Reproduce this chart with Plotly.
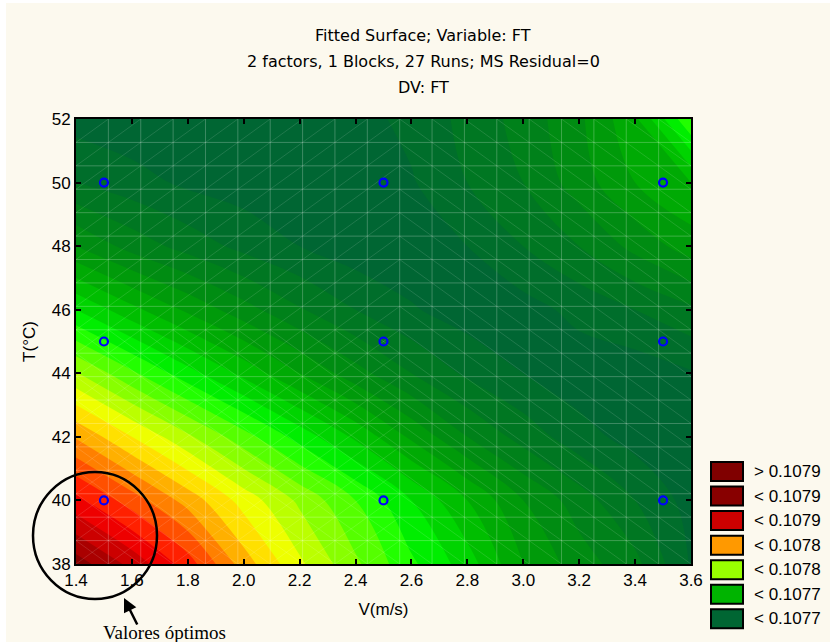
import plotly.graph_objects as go

# ---------------- data ----------------
V_GRID = [1.4, 1.6, 1.8, 2.0, 2.2, 2.4, 2.6, 2.8, 3.0, 3.2, 3.4, 3.6]
T_GRID = [38, 40, 42, 44, 46, 48, 50, 52]

FT_T38 = [0.107895, 0.107877, 0.107855, 0.107825, 0.107802, 0.107782, 0.107762, 0.107745, 0.107720, 0.107705, 0.107693, 0.107669]
FT_T40 = [0.107863, 0.107845, 0.107826, 0.107806, 0.107788, 0.107770, 0.107750, 0.107730, 0.107710, 0.107695, 0.107680, 0.107666]
FT_T42 = [0.107829, 0.107810, 0.107792, 0.107774, 0.107756, 0.107738, 0.107718, 0.107700, 0.107686, 0.107674, 0.107666, 0.107664]
FT_T44 = [0.107791, 0.107772, 0.107754, 0.107737, 0.107720, 0.107704, 0.107690, 0.107678, 0.107670, 0.107664, 0.107664, 0.107669]
FT_T46 = [0.107750, 0.107733, 0.107718, 0.107704, 0.107691, 0.107680, 0.107671, 0.107665, 0.107666, 0.107673, 0.107680, 0.107688]
FT_T48 = [0.107710, 0.107696, 0.107686, 0.107677, 0.107670, 0.107664, 0.107663, 0.107670, 0.107680, 0.107690, 0.107703, 0.107715]
FT_T50 = [0.107680, 0.107674, 0.107668, 0.107665, 0.107663, 0.107663, 0.107669, 0.107680, 0.107690, 0.107705, 0.107720, 0.107730]
FT_T52 = [0.107666, 0.107663, 0.107660, 0.107660, 0.107662, 0.107666, 0.107673, 0.107683, 0.107694, 0.107708, 0.107728, 0.107770]
FT_GRID = [FT_T38, FT_T40, FT_T42, FT_T44, FT_T46, FT_T48, FT_T50, FT_T52]

V_RUNS = [1.5, 2.5, 3.5]
T_RUNS = [40, 45, 50]

X_TICKS = [1.4, 1.6, 1.8, 2.0, 2.2, 2.4, 2.6, 2.8, 3.0, 3.2, 3.4, 3.6]
X_TICK_LABELS = ["1.4", "1.6", "1.8", "2.0", "2.2", "2.4", "2.6", "2.8", "3.0", "3.2", "3.4", "3.6"]
Y_TICKS = [38, 40, 42, 44, 46, 48, 50, 52]
Y_TICK_LABELS = ["38", "40", "42", "44", "46", "48", "50", "52"]

LEGEND_LABELS = ["> 0.1079", "< 0.1079", "< 0.1079", "< 0.1078", "< 0.1078", "< 0.1077", "< 0.1077"]
LEGEND_COLORS = ["#800000", "#880000", "#CC0000", "#FF9900", "#99FF00", "#00B400", "#006633"]

LEVEL_START = 0.10767
LEVEL_END = 0.10789
LEVEL_STEP = 0.00001
BAND_COLORS = ["#006633", "#006E2B", "#007722", "#00811A", "#008C12", "#009A0A",
               "#00AA04", "#00BE00", "#00D400", "#00EE00", "#22FF00", "#55FF00",
               "#88FF00", "#BBFF00", "#EEFF00", "#FFE000", "#FFB000", "#FF8000",
               "#FF5000", "#FF2000", "#EE0000", "#CC0000", "#AA0000", "#880000"]

TITLE_LINES = ["Fitted Surface; Variable: FT",
               "2 factors, 1 Blocks, 27 Runs; MS Residual=0",
               "DV: FT"]

# ---------------- layout geometry ----------------
W, H = 830, 642
L_M, R_M, T_M, B_M = 76, 139, 119, 78
PW = W - L_M - R_M
PH = H - T_M - B_M
X_RANGE = [1.4, 3.6]
Y_RANGE = [38, 52]
BG = "#FCF9EE"


def px(xp):
    return (xp - L_M) / PW


def py(yp):
    return (H - B_M - yp) / PH


fig = go.Figure()

n_bands = len(BAND_COLORS)
colorscale = [[i / (n_bands - 1), c] for i, c in enumerate(BAND_COLORS)]

fig.add_trace(go.Contour(
    x=V_GRID, y=T_GRID, z=FT_GRID,
    colorscale=colorscale,
    autocontour=False,
    contours=dict(start=LEVEL_START, end=LEVEL_END, size=LEVEL_STEP, coloring="fill"),
    line=dict(width=0),
    showscale=False,
    hoverinfo="skip",
))

# faint triangulation mesh drawn over the surface
NDIV = 19
gx = [X_RANGE[0] + i * (X_RANGE[1] - X_RANGE[0]) / NDIV for i in range(NDIV + 1)]
gy = [Y_RANGE[0] + j * (Y_RANGE[1] - Y_RANGE[0]) / NDIV for j in range(NDIV + 1)]
mx, my = [], []
for x in gx[1:-1]:
    mx += [x, x, None]
    my += [Y_RANGE[0], Y_RANGE[1], None]
for y in gy[1:-1]:
    mx += [X_RANGE[0], X_RANGE[1], None]
    my += [y, y, None]
dx, dy = [], []
for i in range(NDIV):
    for j in range(NDIV):
        xc = (gx[i] + gx[i + 1]) / 2
        yc = (gy[j] + gy[j + 1]) / 2
        if xc < 2.56:
            dx += [gx[i], gx[i + 1], None]
            dy += [gy[j], gy[j + 1], None]
        if xc >= 2.56 or yc < 45.6:
            dx += [gx[i], gx[i + 1], None]
            dy += [gy[j + 1], gy[j], None]
fig.add_trace(go.Scatter(x=mx, y=my, mode="lines",
                         line=dict(color="rgba(255,255,255,0.24)", width=1),
                         hoverinfo="skip", showlegend=False))
fig.add_trace(go.Scatter(x=dx, y=dy, mode="lines",
                         line=dict(color="rgba(255,255,255,0.18)", width=0.7),
                         hoverinfo="skip", showlegend=False))

# design points
pts_v = [v for t in T_RUNS for v in V_RUNS]
pts_t = [t for t in T_RUNS for v in V_RUNS]
fig.add_trace(go.Scatter(
    x=pts_v, y=pts_t, mode="markers",
    marker=dict(symbol="circle-open", size=8, color="#0000FF", line=dict(width=2.2, color="#0000FF")),
    showlegend=False, hoverinfo="skip",
))

shapes = []
annotations = []

# cream page background with thin white border
shapes.append(dict(type="rect", xref="paper", yref="paper", layer="below",
                   x0=px(6), x1=px(W + 5), y0=py(H + 5), y1=py(3),
                   fillcolor=BG, line=dict(width=0)))

# title lines
for text, yp in zip(TITLE_LINES, [36, 62, 88]):
    annotations.append(dict(text=text, xref="paper", yref="paper", x=px(423), y=py(yp),
                            xanchor="center", yanchor="middle", showarrow=False,
                            font=dict(family="DejaVu Sans", size=16, color="#000000")))

# legend
for i, (lab, col) in enumerate(zip(LEGEND_LABELS, LEGEND_COLORS)):
    top = 462 + 24.55 * i
    shapes.append(dict(type="rect", xref="paper", yref="paper", layer="above",
                       x0=px(711), x1=px(743), y0=py(top + 19), y1=py(top),
                       fillcolor=col, line=dict(color="#000000", width=2)))
    annotations.append(dict(text=lab, xref="paper", yref="paper", x=px(752), y=py(top + 9.5),
                            xanchor="left", yanchor="middle", showarrow=False,
                            font=dict(family="Liberation Sans, Arial", size=17, color="#000000")))

# highlight circle, arrow and note
shapes.append(dict(type="circle", xref="paper", yref="paper", layer="above",
                   x0=px(33), x1=px(157), y0=py(599), y1=py(472),
                   line=dict(color="#000000", width=2.5)))
annotations.append(dict(text="", xref="paper", yref="paper", x=px(124), y=py(598),
                        ax=14, ay=28, showarrow=True, arrowhead=2, arrowsize=1.1,
                        arrowwidth=2.5, arrowcolor="#000000", standoff=0))
annotations.append(dict(text="Valores óptimos", xref="paper", yref="paper", x=px(164), y=py(632),
                        xanchor="center", yanchor="middle", showarrow=False,
                        font=dict(family="Liberation Serif, Times New Roman", size=19, color="#000000")))

axis_font = dict(family="Liberation Sans, Arial", size=17, color="#000000")
fig.update_layout(
    width=W, height=H,
    margin=dict(l=L_M, r=R_M, t=T_M, b=B_M, pad=0),
    paper_bgcolor="#FFFFFF",
    plot_bgcolor=BG,
    showlegend=False,
    shapes=shapes,
    annotations=annotations,
    xaxis=dict(range=X_RANGE, tickvals=X_TICKS, ticktext=X_TICK_LABELS,
               ticks="inside", ticklen=5, tickwidth=1.5, tickcolor="#000000",
               showline=True, linecolor="#000000", linewidth=2, mirror="ticks",
               showgrid=False, zeroline=False, tickfont=axis_font,
               title=dict(text="V(m/s)", font=axis_font, standoff=14)),
    yaxis=dict(range=Y_RANGE, tickvals=Y_TICKS, ticktext=Y_TICK_LABELS,
               ticks="inside", ticklen=5, tickwidth=1.5, tickcolor="#000000",
               showline=True, linecolor="#000000", linewidth=2, mirror="ticks",
               showgrid=False, zeroline=False, tickfont=axis_font,
               title=dict(text="T(°C)", font=axis_font, standoff=12)),
)

fig.write_html("out.html", config={"displayModeBar": False})

# remove the browser's default page margin so the figure sits at the window origin
with open("out.html", encoding="utf-8") as f:
    html = f.read()
html = html.replace("<head>", "<head><style>html,body{margin:0;padding:0;overflow:hidden;}</style>", 1)
with open("out.html", "w", encoding="utf-8") as f:
    f.write(html)
